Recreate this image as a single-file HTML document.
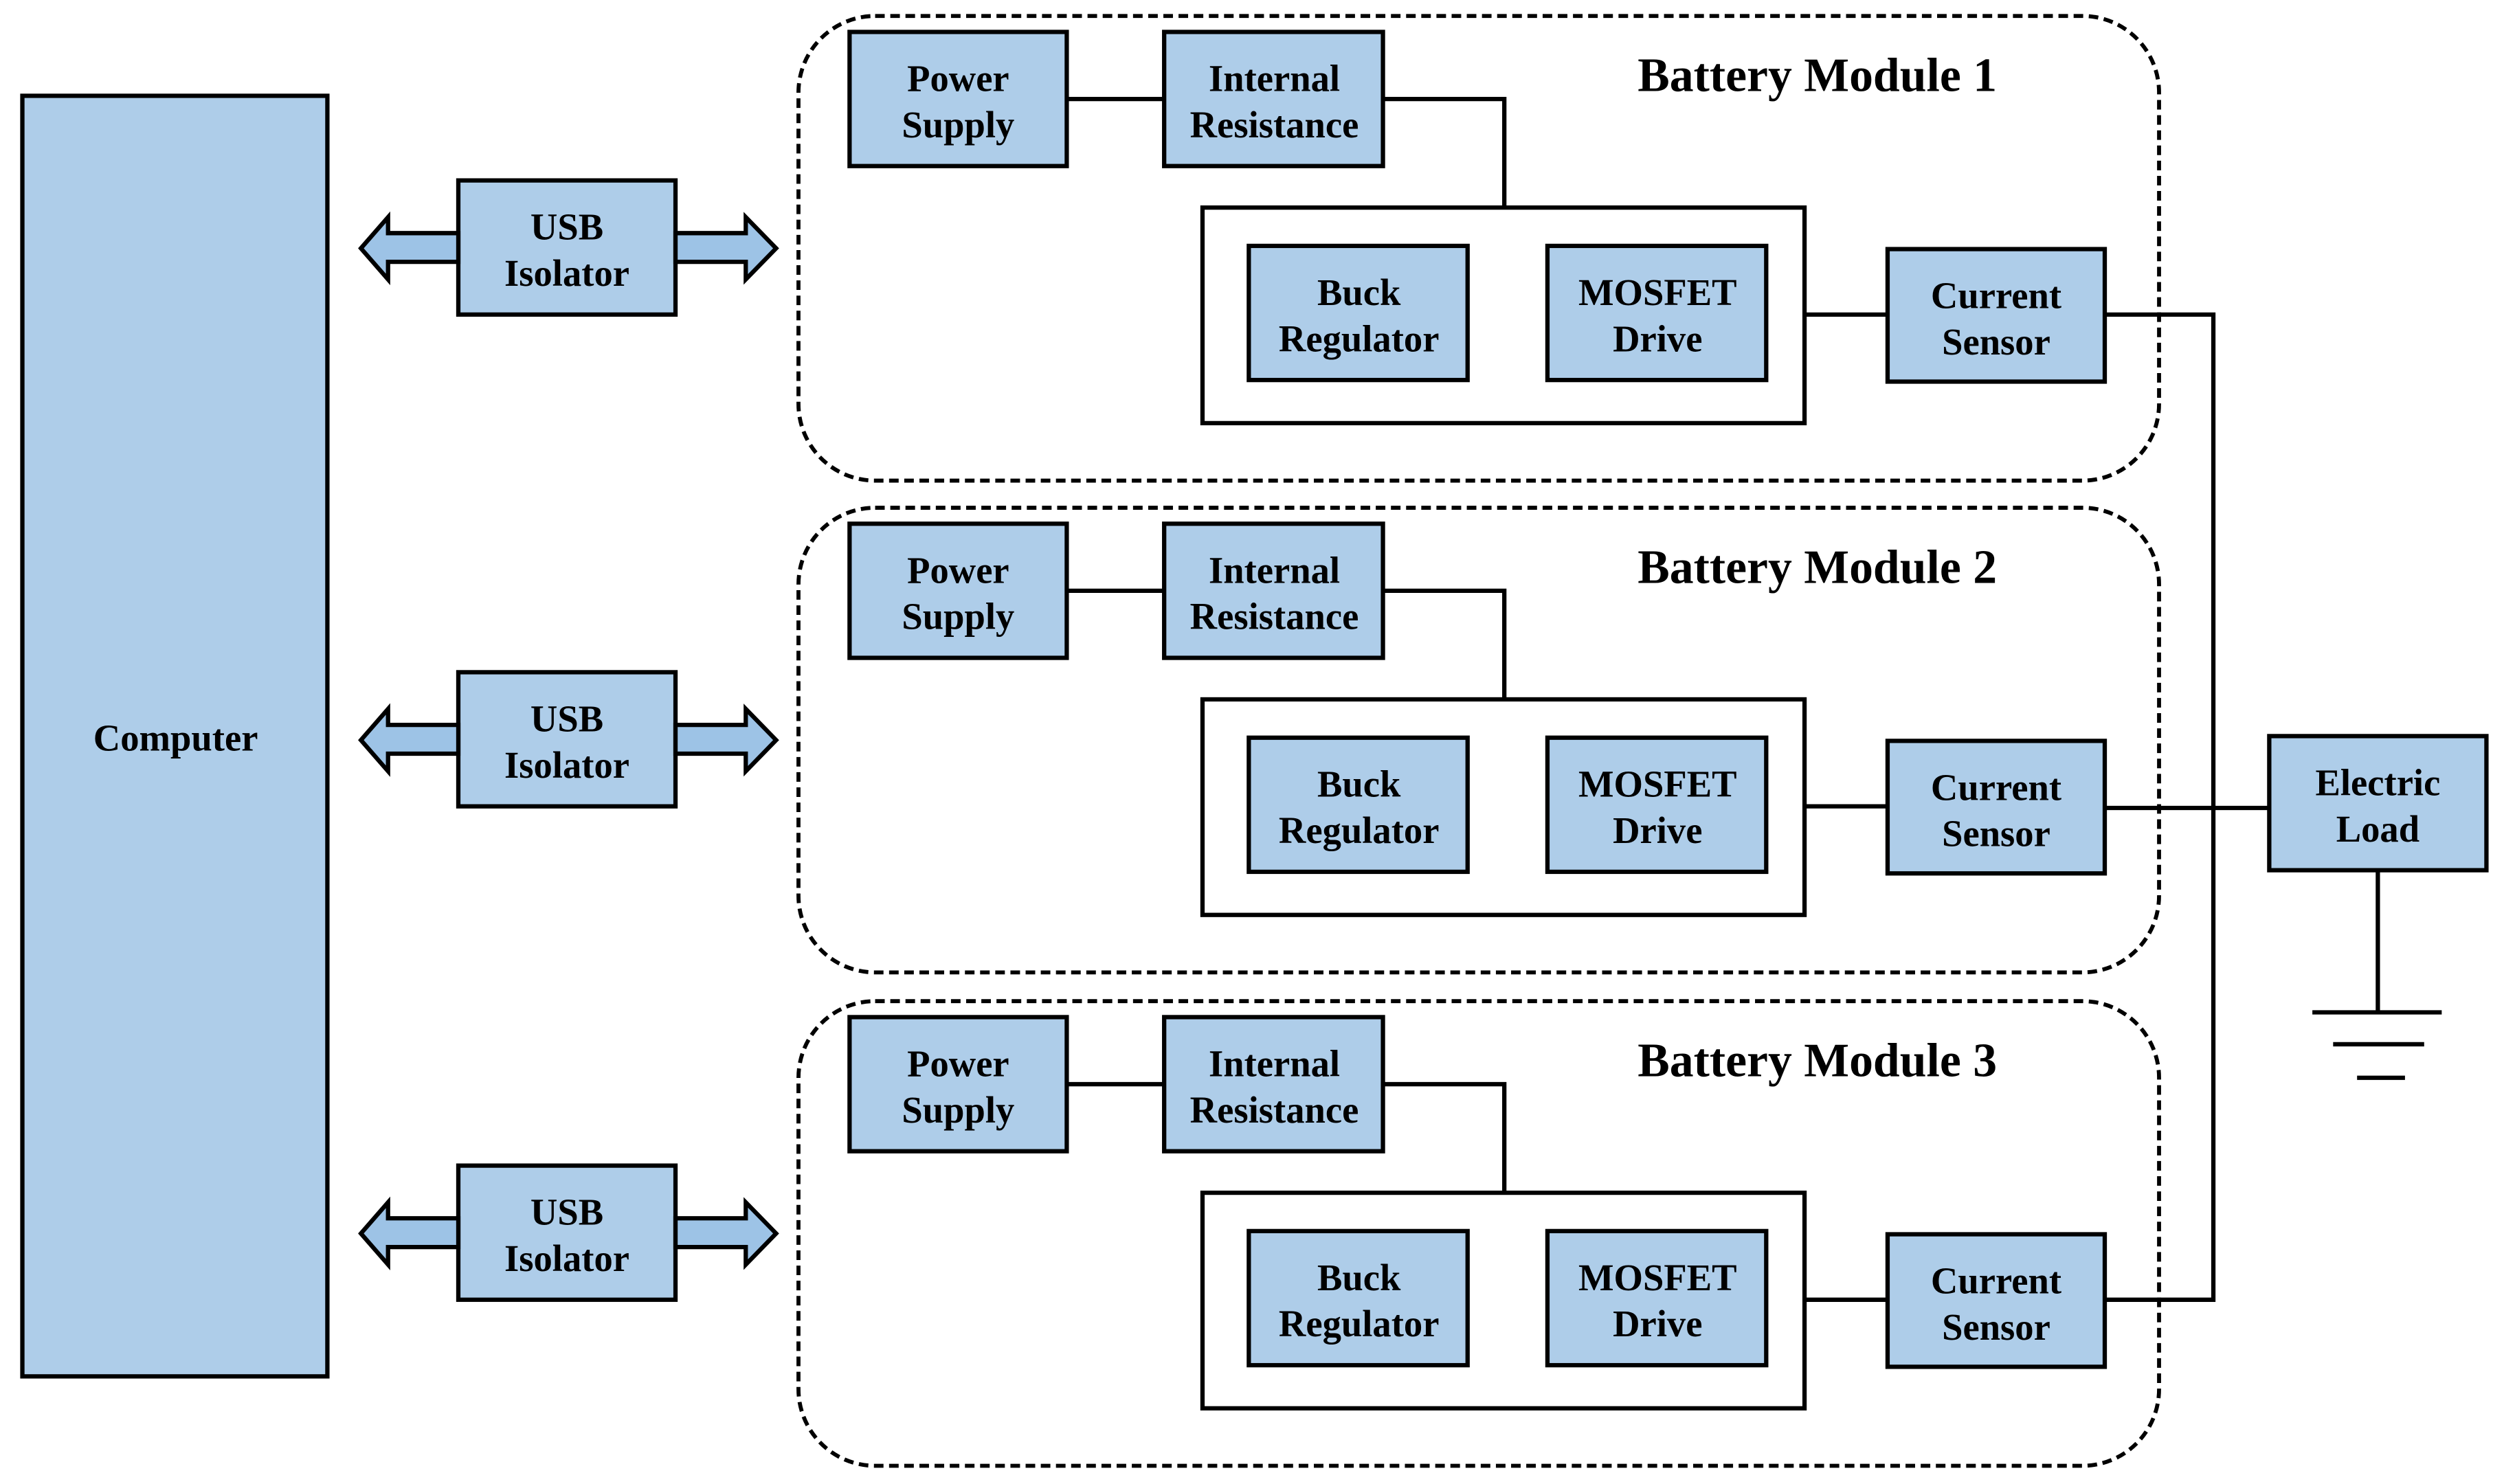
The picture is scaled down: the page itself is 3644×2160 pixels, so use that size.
<!DOCTYPE html>
<html><head><meta charset="utf-8"><style>html,body{margin:0;padding:0;background:#fff}svg{display:block}</style></head>
<body>
<svg width="3644" height="2160" viewBox="0 0 1568 929.4" preserveAspectRatio="none" xmlns="http://www.w3.org/2000/svg" font-family="'Liberation Serif', serif" font-weight="bold">
<defs>
<g id="mod">
  <rect x="500" y="10" width="852" height="291" rx="48" ry="48" fill="none" stroke="#000" stroke-width="2.5" stroke-dasharray="6,3.5"/>
  <path d="M668 62H729M866 62H942V130M1130 197H1182" fill="none" stroke="#000" stroke-width="2.7"/>
  <rect x="532" y="20" width="136" height="84" fill="#aecde9" stroke="#000" stroke-width="2.7"/>
  <rect x="729" y="20" width="137" height="84" fill="#aecde9" stroke="#000" stroke-width="2.7"/>
  <rect x="753" y="130" width="377" height="135" fill="#fff" stroke="#000" stroke-width="2.7"/>
  <rect x="782" y="154" width="137" height="84" fill="#aecde9" stroke="#000" stroke-width="2.7"/>
  <rect x="969" y="154" width="137" height="84" fill="#aecde9" stroke="#000" stroke-width="2.7"/>
  <rect x="1182" y="156" width="136" height="83" fill="#aecde9" stroke="#000" stroke-width="2.7"/>
  <g font-size="23.5" text-anchor="middle">
    <text x="600" y="57">Power</text><text x="600" y="86">Supply</text>
    <text x="798" y="57">Internal</text><text x="798" y="86">Resistance</text>
    <text x="851" y="191">Buck</text><text x="851" y="220">Regulator</text>
    <text x="1038" y="191">MOSFET</text><text x="1038" y="220">Drive</text>
    <text x="1250" y="193">Current</text><text x="1250" y="222">Sensor</text>
  </g>
  <rect x="287" y="113" width="136" height="84" fill="#aecde9" stroke="#000" stroke-width="2.7"/>
  <text x="355" y="150" font-size="23.5" text-anchor="middle">USB</text>
  <text x="355" y="179" font-size="23.5" text-anchor="middle">Isolator</text>
  <path d="M287 146H243V136L226 155.5L243 175V164H287Z" fill="#9dc3e6" stroke="#000" stroke-width="2.7"/>
  <path d="M423 146H467V136L486 155.5L467 175V164H423Z" fill="#9dc3e6" stroke="#000" stroke-width="2.7"/>
</g>
</defs>
<rect x="14" y="60" width="191" height="802" fill="#aecde9" stroke="#000" stroke-width="2.7"/>
<text x="110" y="470" font-size="23.5" text-anchor="middle">Computer</text>
<use href="#mod"/>
<use href="#mod" transform="translate(0,308)"/>
<use href="#mod" transform="translate(0,617)"/>
<g font-size="30" text-anchor="middle">
<text x="1138" y="57">Battery Module 1</text>
<text x="1138" y="365">Battery Module 2</text>
<text x="1138" y="674">Battery Module 3</text>
</g>
<path d="M1318 197H1386V814H1318M1318 506H1421M1489 545V634M1448 634H1529M1461 654H1518M1476 675H1506" fill="none" stroke="#000" stroke-width="2.7"/>
<rect x="1421" y="461" width="136" height="84" fill="#aecde9" stroke="#000" stroke-width="2.7"/>
<text x="1489" y="498" font-size="23.5" text-anchor="middle">Electric</text>
<text x="1489" y="527" font-size="23.5" text-anchor="middle">Load</text>
</svg>
</body></html>
